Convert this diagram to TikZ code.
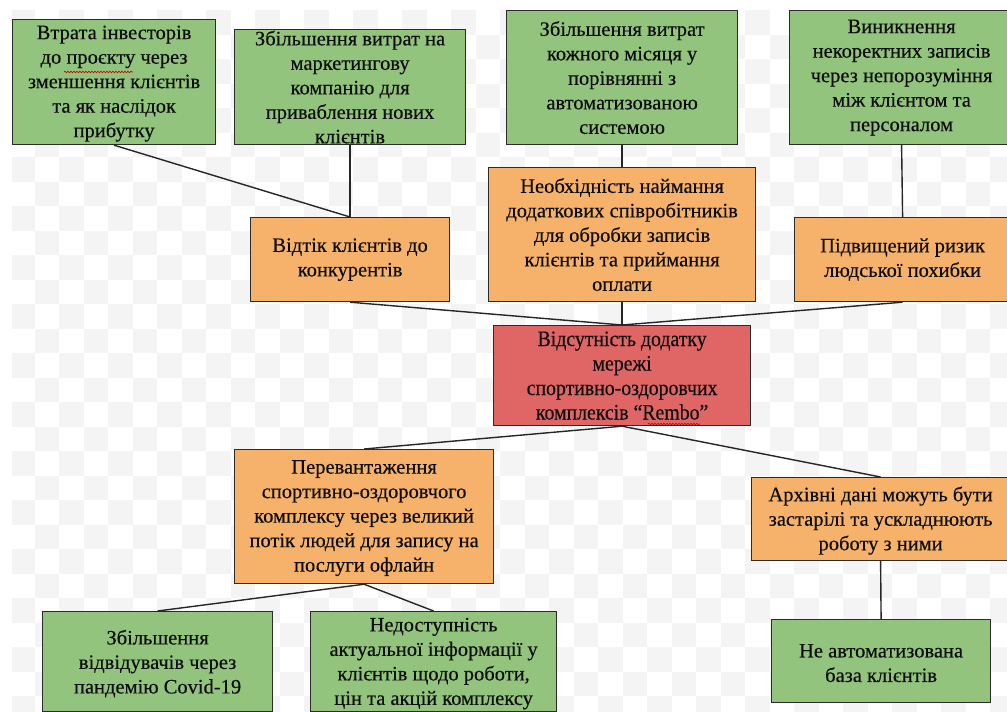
\documentclass[tikz,border=0pt]{standalone}
\usepackage{fontspec}
\setmainfont[FakeBold=0.35]{Liberation Serif}
\newfontfamily\tallfont[FakeStretch=0.9,FakeBold=0.35]{Liberation Serif}
\usetikzlibrary{decorations.pathmorphing}
\definecolor{gfill}{HTML}{93C47D}
\definecolor{ofill}{HTML}{F6B26B}
\definecolor{rfill}{HTML}{E06666}
\definecolor{bgsq}{HTML}{F4F4F4}
\definecolor{edgec}{HTML}{2B2B2B}
\tikzset{
  boxshape/.style={draw=edgec, line width=1.2pt, rectangle, inner sep=0pt, anchor=north west},
  gbox/.style={boxshape, fill=gfill},
  obox/.style={boxshape, fill=ofill},
  rbox/.style={boxshape, fill=rfill},
  boxtext/.style={align=center, inner sep=0pt, font=\fontsize{20.5}{24.5}\selectfont, text=black!95},
  redtext/.style={font=\tallfont\fontsize{22}{24.5}\selectfont},
  link/.style={draw=black!85, line width=1.4pt},
  squiggle/.style={draw=red!80!black, line width=0.6pt, decorate, decoration={snake, segment length=3pt, amplitude=0.8pt}}
}
\newcommand\mybox[8][]{%
  \node[#2, minimum width={#6pt-#4pt}, minimum height={#7pt-#5pt}] (#3) at (#4,#5) {};
  \node[boxtext,#1] (#3-t) at (#3.center) {#8};
}
\begin{document}
\begin{tikzpicture}[x=1pt,y=-1pt]
\useasboundingbox (0,0) rectangle (1007,712);
\fill[white] (0,0) rectangle (1007,712);
% faint transparency checkerboard
\begin{scope}
  \clip (12,10) rectangle (1007,712);
  \foreach \i in {0,...,40}{
    \foreach \j in {0,...,29}{
      \pgfmathtruncatemacro\parity{mod(\i+\j,2)}
      \ifnum\parity=0
        \fill[bgsq] ({10+24.5*\i},{10+24.5*\j}) rectangle ++(24.5,24.5);
      \fi
    }
  }
\end{scope}
% top row
\mybox[yshift=-1.5pt]{gbox}{g1}{12}{19}{215}{144}{Втрата інвесторів\\до проєкту через\\зменшення клієнтів\\та як наслідок\\прибутку}
\mybox{gbox}{g2}{234}{29}{465}{144}{Збільшення витрат на\\маркетингову\\компанію для\\приваблення нових\\клієнтів}
\mybox{gbox}{g3}{506}{10}{737}{144}{Збільшення витрат\\кожного місяця у\\порівнянні з\\автоматизованою\\системою}
\mybox{gbox}{g4}{789}{10}{1013}{144}{Виникнення\\некоректних записів\\через непорозуміння\\між клієнтом та\\персоналом}
% second row
\mybox{obox}{o1}{250}{217}{449}{301}{Відтік клієнтів до\\конкурентів}
\mybox{obox}{o2}{488}{167}{755}{301}{Необхідність наймання\\додаткових співробітників\\для обробки записів\\клієнтів та приймання\\оплати}
\mybox{obox}{o3}{794}{217}{1010}{301}{Підвищений ризик\\людської похибки}
% central
\mybox[redtext]{rbox}{r}{493}{325}{750}{425}{Відсутність додатку\\мережі\\спортивно-оздоровчих\\комплексів “Rembo”}
% lower
\mybox[yshift=-1.5pt]{obox}{o4}{234}{449}{493}{583}{Перевантаження\\спортивно-оздоровчого\\комплексу через великий\\потік людей для запису на\\послуги офлайн}
\mybox[yshift=-1.5pt]{obox}{o5}{751}{477}{1009}{560}{Архівні дані можуть бути\\застарілі та ускладнюють\\роботу з ними}
\mybox[yshift=-2pt]{gbox}{g5}{42}{611}{272}{711}{Збільшення\\відвідувачів через\\пандемію Covid-19}
\mybox[yshift=-2pt]{gbox}{g6}{310}{611}{556}{711}{Недоступність\\актуальної інформації у\\клієнтів щодо роботи,\\цін та акцій комплексу}
\mybox[yshift=-2pt]{gbox}{g7}{771}{619}{990}{702}{Не автоматизована\\база клієнтів}
% connectors
\draw[link] (g1.south) -- (o1.north);
\draw[link] (g2.south) -- (o1.north);
\draw[link] (g3.south) -- (o2.north);
\draw[link] (g4.south) -- (o3.north);
\draw[link] (o1.south) -- (r.north);
\draw[link] (o2.south) -- (r.north);
\draw[link] (o3.south) -- (r.north);
\draw[link] (r.south) -- (o4.north);
\draw[link] (r.south) -- (o5.north);
\draw[link] (o4.south) -- (g5.north);
\draw[link] (o4.south) -- (g6.north);
\draw[link] (o5.south) -- (g7.north);
% spell-check underlines
\coordinate (u1a) at (64,72);
\coordinate (u1b) at (133,72);
\draw[squiggle] (u1a) -- (u1b);
\coordinate (u2a) at (648,424);
\coordinate (u2b) at (700,424);
\draw[squiggle] (u2a) -- (u2b);
\end{tikzpicture}
\end{document}
